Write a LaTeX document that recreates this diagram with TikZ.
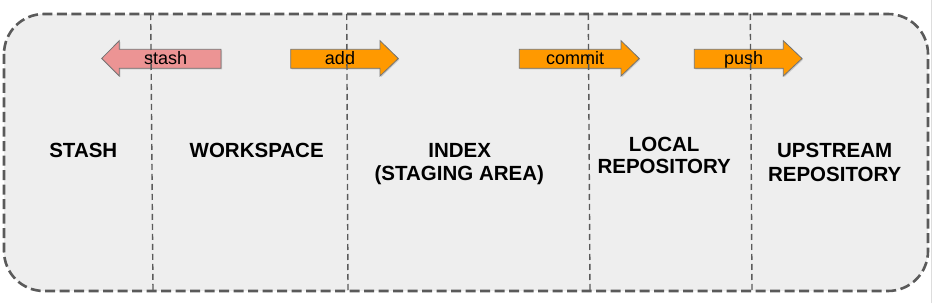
\documentclass[tikz,border=0pt]{standalone}
\usepackage{fontspec}
\setmainfont{Liberation Sans}
\usetikzlibrary{shadows}
\definecolor{boxfill}{HTML}{EEEEEE}
\definecolor{dashgray}{HTML}{5A5A5A}
\definecolor{arroworange}{HTML}{FF9900}
\definecolor{arrowpink}{HTML}{EC9494}
\definecolor{edgegray}{HTML}{DDDDDD}
\newcommand\rightarr[4]{%
  \fill[#4,arrowshape] (#1,234.7) -- (#1,253.7) -- (#2,253.7) -- (#2,262.3) -- (#3,244.5) -- (#2,227) -- (#2,234.7) -- cycle;}
\begin{document}
\begin{tikzpicture}[x=1pt,y=1pt,
  outerbox/.style={draw=dashgray,line width=2.6pt,dash pattern=on 10pt off 4.5pt,fill=boxfill,rounded corners=40pt},
  divider/.style={draw=dashgray,line width=1.4pt,dash pattern=on 6pt off 4pt},
  arrowshape/.style={draw=black!55,line width=0.8pt,drop shadow={shadow xshift=1pt,shadow yshift=-1.2pt,opacity=0.35}},
  arrlabel/.style={anchor=base,inner sep=0pt,font=\fontsize{18}{21}\selectfont},
  arealabel/.style={anchor=base,inner sep=0pt,font=\fontsize{20.5}{23}\selectfont\bfseries}]
\useasboundingbox (0,0) rectangle (936,303);
\draw[edgegray,line width=1pt] (931.5,0) -- (931.5,303);
\path[outerbox] (4,289) rectangle (928,12);
% arrows
\fill[arrowpink,arrowshape] (221,234.7) -- (221,253.7) -- (119.3,253.7) -- (119.3,262.3) -- (101.7,244.5) -- (119.3,227) -- (119.3,234.7) -- cycle;
\rightarr{290.7}{380}{398.3}{arroworange}
\rightarr{519.3}{621}{639.3}{arroworange}
\rightarr{694.3}{783.3}{802}{arroworange}
% dividers
\coordinate (d1t) at (150.7,289); \coordinate (d1b) at (153,12);
\coordinate (d2t) at (346.7,289); \coordinate (d2b) at (348,12);
\coordinate (d3t) at (588.3,289); \coordinate (d3b) at (590,12);
\coordinate (d4t) at (750.3,289); \coordinate (d4b) at (752,12);
\draw[divider] (d1t) -- (d1b);
\draw[divider] (d2t) -- (d2b);
\draw[divider] (d3t) -- (d3b);
\draw[divider] (d4t) -- (d4b);
% arrow labels
\node[arrlabel] (stash) at (165.7,238) {stash};
\node[arrlabel] (add) at (340,238) {add};
\node[arrlabel] (commit) at (575,238) {commit};
\node[arrlabel] (push) at (743.7,238) {push};
% area labels
\node[arealabel] (stasharea) at (83.3,145.7) {STASH};
\node[arealabel] (workspace) at (256.7,145.7) {WORKSPACE};
\node[arealabel] (index1) at (459.7,145.7) {INDEX};
\node[arealabel] (index2) at (459.3,123) {(STAGING AREA)};
\node[arealabel] (local1) at (664.2,152) {LOCAL};
\node[arealabel] (local2) at (664.2,129.7) {REPOSITORY};
\node[arealabel] (up1) at (834.7,145.3) {UPSTREAM};
\node[arealabel] (up2) at (834.7,122) {REPOSITORY};
\end{tikzpicture}
\end{document}
